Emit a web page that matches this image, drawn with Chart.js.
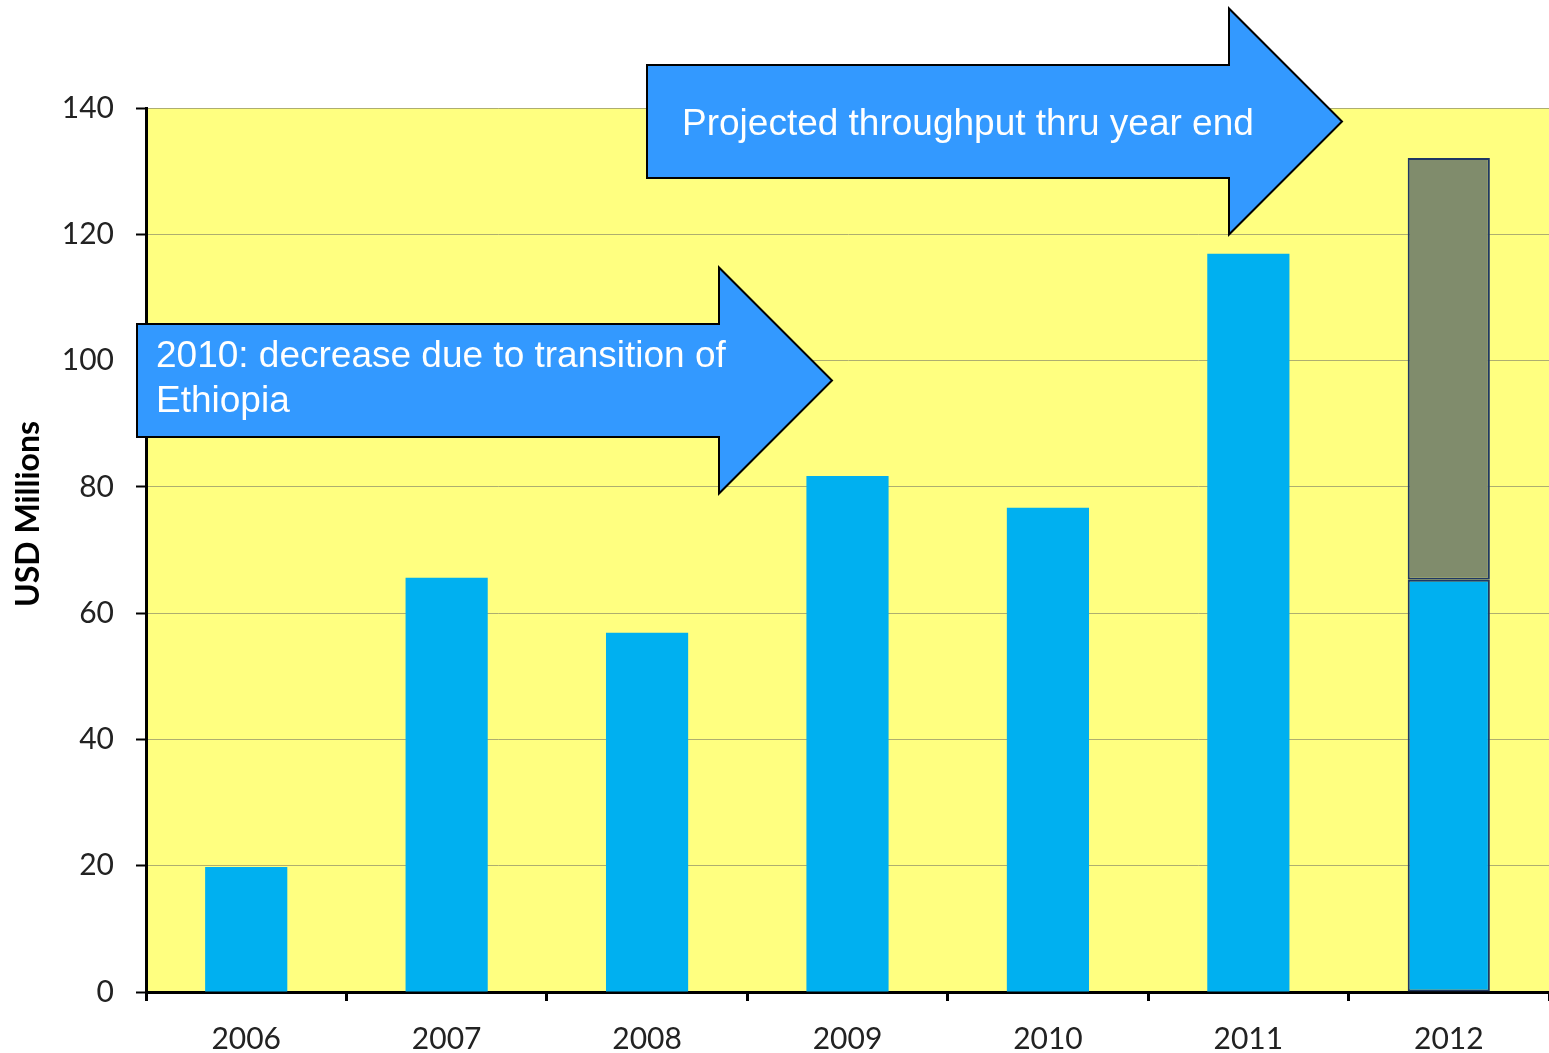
<!DOCTYPE html>
<html>
<head>
<meta charset="utf-8">
<script src="https://cdn.jsdelivr.net/npm/chart.js@4.4.1/dist/chart.umd.min.js"></script>
<style>
  html, body { margin: 0; padding: 0; background: #fff; }
  #wrap { width: 1549px; height: 1053px; }
</style>
</head>
<body>
<div id="wrap"><canvas id="chart"></canvas></div>
<script>
// Throughput by year (USD millions)
const years = ['2006', '2007', '2008', '2009', '2010', '2011', '2012'];
const actualValues = [19.8, 65.6, 56.9, 81.7, 76.7, 116.9, 65.3];
const projectedValues = [0, 0, 0, 0, 0, 0, 66.8];
const yTicks = [0, 20, 40, 60, 80, 100, 120, 140];
const yAxisTitle = 'USD Millions';
const calloutProjected = ['Projected throughput thru year end'];
const calloutEthiopia = ['2010: decrease due to transition of', 'Ethiopia'];

// yellow plot area
const plotBackground = {
    id: 'plotBackground',
    beforeDraw(chart) {
        const { ctx, chartArea: a } = chart;
        ctx.save();
        ctx.fillStyle = '#FFFF80';
        ctx.fillRect(a.left, a.top, a.right - a.left, a.bottom - a.top);
        ctx.restore();
    }
};

function drawArrow(ctx, x, y, w, h, headW, headH, lines, textX, textY) {
    // x,y = top-left of body, w = body length, h = body height
    const midY = y + h / 2;
    ctx.beginPath();
    ctx.moveTo(x, y);
    ctx.lineTo(x + w, y);
    ctx.lineTo(x + w, midY - headH / 2);
    ctx.lineTo(x + w + headW, midY);
    ctx.lineTo(x + w, midY + headH / 2);
    ctx.lineTo(x + w, y + h);
    ctx.lineTo(x, y + h);
    ctx.closePath();
    ctx.fillStyle = '#3399FF';
    ctx.fill();
    ctx.lineWidth = 2;
    ctx.strokeStyle = '#000';
    ctx.stroke();

    ctx.fillStyle = '#fff';
    ctx.font = '37px "Liberation Sans", Arial, sans-serif';
    ctx.textAlign = 'left';
    ctx.textBaseline = 'alphabetic';
    lines.forEach((t, i) => ctx.fillText(t, x + textX, y + textY + i * 45));
}

const annotations = {
    id: 'annotations',
    afterDraw(chart) {
        const { ctx } = chart;
        ctx.save();
        // y axis title
        ctx.translate(29, 514);
        ctx.rotate(-Math.PI / 2);
        ctx.fillStyle = '#000';
        ctx.font = 'bold 32px Lato, "Open Sans", sans-serif';
        ctx.textAlign = 'center';
        ctx.textBaseline = 'middle';
        ctx.fillText(yAxisTitle, 0, 0);
        ctx.restore();

        ctx.save();
        drawArrow(ctx, 137, 324, 582, 113, 113, 226, calloutEthiopia, 19, 43);
        drawArrow(ctx, 647, 65, 582, 113, 113, 226, calloutProjected, 35, 70);
        ctx.restore();
    }
};

const tickFont = { family: 'Lato, "Open Sans", sans-serif', size: 30 };

new Chart(document.getElementById('chart'), {
    type: 'bar',
    data: {
        labels: years,
        datasets: [
            {
                label: 'Actual',
                data: actualValues,
                backgroundColor: '#00B0F0',
                borderColor: '#1F3864',
                borderWidth: [0, 0, 0, 0, 0, 0, 2],
                borderSkipped: false
            },
            {
                label: 'Projected',
                data: projectedValues,
                backgroundColor: '#808C6C',
                borderColor: '#1F3864',
                borderWidth: [0, 0, 0, 0, 0, 0, 2],
                borderSkipped: false
            }
        ]
    },
    options: {
        responsive: true,
        maintainAspectRatio: false,
        animation: false,
        devicePixelRatio: 1,
        layout: { padding: { left: 0, right: 0, top: 108, bottom: 0 } },
        datasets: {
            bar: { categoryPercentage: 1.0, barPercentage: 0.41 }
        },
        plugins: {
            legend: { display: false },
            tooltip: { enabled: false }
        },
        scales: {
            x: {
                stacked: true,
                grid: {
                    offset: true,
                    drawOnChartArea: false,
                    drawTicks: true,
                    tickLength: 9,
                    tickWidth: 3,
                    tickColor: '#000'
                },
                border: { color: '#000', width: 3 },
                ticks: { font: tickFont, color: '#222', padding: 20 },
                afterFit(scale) { scale.height = 61; }
            },
            y: {
                stacked: true,
                min: 0,
                max: 140,
                afterBuildTicks(scale) {
                    scale.ticks = yTicks.map(v => ({ value: v }));
                },
                grid: {
                    color: '#AEAE70',
                    lineWidth: 1,
                    tickLength: 10,
                    tickWidth: 2,
                    tickColor: '#000'
                },
                border: { color: '#000', width: 3 },
                ticks: { font: tickFont, color: '#222', padding: 22 },
                afterFit(scale) { scale.width = 146; }
            }
        }
    },
    plugins: [plotBackground, annotations]
});
</script>
</body>
</html>
